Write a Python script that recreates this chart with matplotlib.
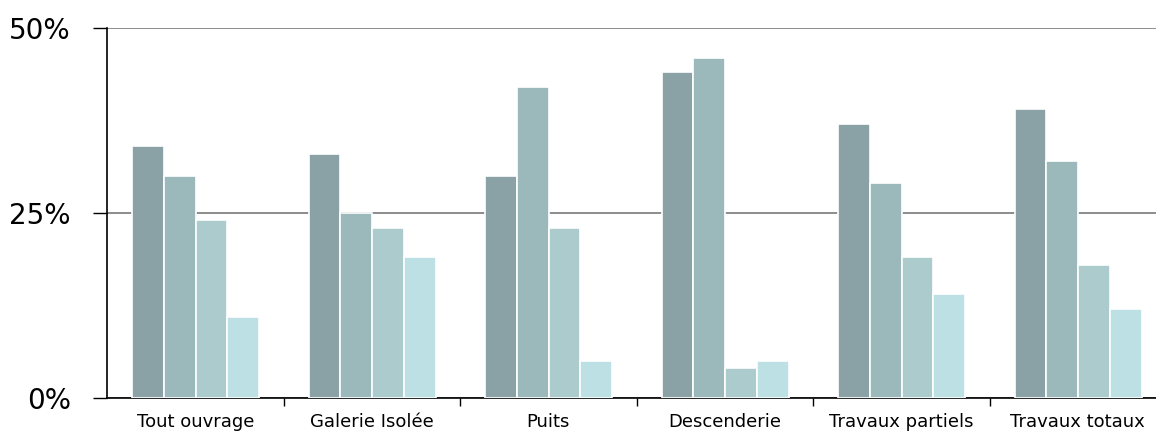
import matplotlib
matplotlib.use("Agg")
import matplotlib.pyplot as plt
import numpy as np

categories = ["Tout ouvrage", "Galerie Isolée", "Puits", "Descenderie",
              "Travaux partiels", "Travaux totaux"]
serie_1 = [34, 33, 30, 44, 37, 39]
serie_2 = [30, 25, 42, 46, 29, 32]
serie_3 = [24, 23, 23, 4, 19, 18]
serie_4 = [11, 19, 5, 5, 14, 12]
y_ticks = [0, 25, 50]
y_labels = ["0%", "25%", "50%"]

colors = ["#8aa2a5", "#9bb8ba", "#abcbcd", "#bde0e4"]

plt.rcParams['font.family'] = ['DejaVu Sans']

W, H = 1156, 434
group_px = 176.5
fig = plt.figure(figsize=(W / 100, H / 100), dpi=100)
ax = fig.add_axes([107 / W, 36 / H, 6 * group_px / W, (398 - 28) / H])

x = np.arange(len(categories))
bw = 31.8 / group_px
offset0 = 25 / group_px
for i, vals in enumerate([serie_1, serie_2, serie_3, serie_4]):
    ax.bar(x + offset0 + i * bw, vals, width=bw, align='edge', color=colors[i],
           edgecolor='white', linewidth=1.2, zorder=3)

ax.set_xlim(0, len(categories))
ax.set_ylim(0, 50)

ax.set_yticks(y_ticks)
ax.set_yticklabels(y_labels, fontsize=20)
ax.yaxis.grid(True, color='#8c8c8c', linewidth=1.4, zorder=0)
ax.tick_params(axis='y', length=10, width=1, pad=16, color='black')

ax.set_xticks(x + 0.5)
ax.set_xticklabels(categories, fontsize=13)
ax.set_xticks(np.arange(1, len(categories)), minor=True)
ax.tick_params(axis='x', which='major', length=0, pad=11)
ax.tick_params(axis='x', which='minor', length=6, width=1, color='black')

for s in ['top', 'right']:
    ax.spines[s].set_visible(False)
ax.spines['left'].set_linewidth(1.2)
ax.spines['bottom'].set_linewidth(1.2)
ax.set_axisbelow(True)

fig.savefig("out.png", dpi=100)
